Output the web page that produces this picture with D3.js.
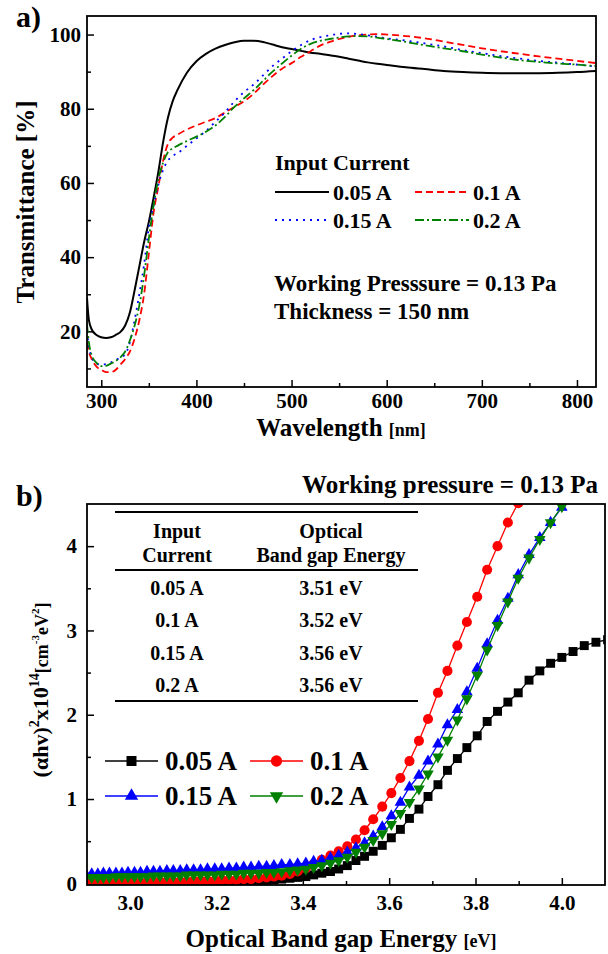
<!DOCTYPE html>
<html>
<head>
<meta charset="utf-8">
<script src="https://cdn.jsdelivr.net/npm/d3@7"></script>
<style>
  body { margin: 0; background: #fff; }
  svg { display: block; }
  text { font-family: "Liberation Serif", "Times New Roman", serif; font-weight: bold; fill: #000; }
</style>
</head>
<body>
<div id="chart"></div>
<script>
// ---------- panel a) transmittance spectra ----------
const wavelength = [285, 287, 290, 295, 300, 305, 310, 315, 320, 325, 330, 335, 340, 345, 350, 355,
  360, 365, 370, 375, 380, 390, 400, 410, 420, 430, 440, 450, 460, 470, 480, 490, 500, 510, 520,
  530, 540, 550, 560, 570, 580, 590, 600, 620, 640, 660, 680, 700, 720, 740, 760, 780, 800, 820];
const trans005 = [29, 23, 20.5, 19, 18.4, 18.2, 18.4, 19, 19.8, 21.5, 25, 31, 37.5, 44, 49.5, 56,
  63, 71, 77.5, 82, 85, 89.7, 92.8, 94.8, 96.2, 97.2, 97.9, 98.3, 98.3, 98, 97.3, 96.6, 96.1, 95.6, 95.1,
  94.8, 94.4, 94, 93.5, 93, 92.5, 92.1, 91.8, 91.2, 90.7, 90.2, 89.9, 89.7, 89.6, 89.6, 89.6, 89.7, 89.9, 90.2];
const trans01 = [17, 14.5, 12.5, 10.5, 9.6, 9, 9, 9.6, 11, 12.5, 14.5, 18, 23, 30, 41, 52,
  59, 66, 70.5, 72.2, 73, 74.4, 75.5, 76.5, 77.5, 79, 80.5, 82, 84, 86.5, 88.8, 90.8, 92.3, 94, 95.5,
  97, 98, 98.8, 99.4, 99.8, 100, 100.1, 100, 99.6, 99, 98.1, 97.2, 96.3, 95.5, 94.8, 94.1, 93.5, 92.9, 92.3];
const trans015 = [20, 16, 13, 11.3, 11, 11.2, 11.6, 12.2, 13, 13.8, 17, 23, 30, 38, 48, 54,
  59.5, 63.5, 66, 67.3, 68, 70, 72, 74, 76.5, 79, 82, 84.5, 86.5, 89, 91.5, 93.5, 95.5, 97.2, 98.5,
  99.3, 99.8, 100.2, 100.3, 100.1, 99.8, 99.4, 99, 98.4, 97.6, 96.8, 95.8, 95, 94.2, 93.5, 92.9, 92.4, 91.9, 91.4];
const trans02 = [22, 17, 13.5, 11.5, 10.6, 10.7, 11.3, 12, 13, 14.5, 17.5, 21.5, 27, 35, 45, 54,
  61, 65.5, 68.3, 69.3, 70, 71.3, 72.5, 73.8, 75.5, 77.8, 80.5, 82.8, 85, 87.5, 90, 92.2, 94.3, 96.2, 97.5,
  98.3, 98.8, 99.2, 99.5, 99.6, 99.5, 99.2, 98.8, 98, 97.1, 96.3, 95.5, 94.6, 93.8, 93.1, 92.6, 92.2, 91.9, 91.5];
const aXTicks = [300, 400, 500, 600, 700, 800];
const aXMinor = [350, 450, 550, 650, 750];
const aYTicks = [20, 40, 60, 80, 100];
const aYMinor = [10, 30, 50, 70, 90];

// ---------- panel b) Tauc plot ----------
const photonEnergy = [2.897, 2.911, 2.925, 2.938, 2.952, 2.967, 2.981, 2.995, 3.010, 3.024, 3.039,
  3.054, 3.069, 3.085, 3.100, 3.116, 3.131, 3.147, 3.163, 3.179, 3.196, 3.212, 3.229, 3.246, 3.263,
  3.280, 3.298, 3.316, 3.333, 3.351, 3.370, 3.388, 3.407, 3.425, 3.444, 3.464, 3.483, 3.503, 3.523,
  3.543, 3.563, 3.584, 3.605, 3.626, 3.647, 3.669, 3.690, 3.713, 3.735, 3.758, 3.780, 3.804, 3.827,
  3.851, 3.875, 3.899, 3.924, 3.949, 3.974, 4.000, 4.026, 4.052, 4.079, 4.106];
const tauc005 = [0, 0, 0, 0, 0, 0, 0, 0, 0, 0, 0, 0, 0, 0, 0, 0, 0, 0, 0, 0.01, 0.01, 0.01, 0.01,
  0.02, 0.02, 0.02, 0.03, 0.03, 0.04, 0.05, 0.06, 0.07, 0.08, 0.10, 0.12, 0.14, 0.17, 0.21, 0.27, 0.32,
  0.38, 0.45, 0.54, 0.64, 0.77, 0.88, 1.03, 1.17, 1.34, 1.48, 1.61, 1.75, 1.92, 2.04, 2.15, 2.26, 2.41,
  2.52, 2.61, 2.68, 2.75, 2.82, 2.86, 2.89];
const tauc01 = [0, 0, 0, 0.01, 0.01, 0.01, 0.01, 0.01, 0.01, 0.01, 0.01, 0.02, 0.02, 0.02, 0.02, 0.02,
  0.02, 0.03, 0.03, 0.03, 0.03, 0.04, 0.04, 0.04, 0.05, 0.05, 0.06, 0.07, 0.08, 0.09, 0.11, 0.14, 0.18,
  0.23, 0.28, 0.33, 0.38, 0.44, 0.52, 0.63, 0.76, 0.91, 1.07, 1.25, 1.45, 1.69, 1.95, 2.26, 2.52, 2.82,
  3.10, 3.40, 3.72, 4.00, 4.28, 4.51, 4.80];
const tauc015 = [0.11, 0.11, 0.11, 0.12, 0.12, 0.12, 0.12, 0.13, 0.13, 0.13, 0.14, 0.14, 0.14, 0.15,
  0.15, 0.15, 0.16, 0.16, 0.16, 0.17, 0.17, 0.17, 0.18, 0.18, 0.19, 0.19, 0.20, 0.20, 0.21, 0.22, 0.22,
  0.23, 0.24, 0.26, 0.27, 0.30, 0.33, 0.37, 0.42, 0.48, 0.56, 0.67, 0.80, 0.96, 1.14, 1.28, 1.45, 1.65,
  1.88, 2.06, 2.27, 2.55, 2.84, 3.12, 3.38, 3.66, 3.90, 4.10, 4.28, 4.46, 4.66];
const tauc02 = [0.07, 0.07, 0.07, 0.07, 0.07, 0.08, 0.08, 0.08, 0.08, 0.08, 0.08, 0.09, 0.09, 0.09,
  0.09, 0.09, 0.10, 0.10, 0.10, 0.10, 0.10, 0.11, 0.11, 0.11, 0.12, 0.12, 0.12, 0.13, 0.13, 0.14, 0.15,
  0.16, 0.17, 0.19, 0.21, 0.24, 0.27, 0.31, 0.37, 0.43, 0.51, 0.59, 0.70, 0.83, 0.96, 1.12, 1.30, 1.50,
  1.70, 1.94, 2.19, 2.47, 2.77, 3.06, 3.34, 3.62, 3.86, 4.08, 4.28, 4.47, 4.68];
const bXTicks = [3.0, 3.2, 3.4, 3.6, 3.8, 4.0];
const bXMinor = [3.1, 3.3, 3.5, 3.7, 3.9];
const bYTicks = [0, 1, 2, 3, 4];
const bYMinor = [0.5, 1.5, 2.5, 3.5];

const currents = ["0.05 A", "0.1 A", "0.15 A", "0.2 A"];
const bandGaps = ["3.51 eV", "3.52 eV", "3.56 eV", "3.56 eV"];
const colors = ["#000000", "#ff0000", "#0000ff", "#008000"];

const W = 608, H = 954;
const svg = d3.select("#chart").append("svg")
  .attr("width", W).attr("height", H).attr("viewBox", `0 0 ${W} ${H}`);
svg.append("rect").attr("width", W).attr("height", H).attr("fill", "#fff");

function styleAxis(g) {
  g.select(".domain").remove();
  g.selectAll("line").attr("stroke", "#000").attr("stroke-width", 1.5);
  g.selectAll("text").attr("font-size", 21).attr("fill", "#000");
}

function frame(box) {
  svg.append("rect")
    .attr("x", box.left).attr("y", box.top)
    .attr("width", box.right - box.left).attr("height", box.bottom - box.top)
    .attr("fill", "none").attr("stroke", "#000").attr("stroke-width", 1.8);
}

function clip(id, box) {
  svg.append("clipPath").attr("id", id).append("rect")
    .attr("x", box.left).attr("y", box.top)
    .attr("width", box.right - box.left).attr("height", box.bottom - box.top);
}

// ================= panel a =================
const boxA = { left: 87, top: 16, right: 596, bottom: 387 };
const xA = d3.scaleLinear().domain([285, 820]).range([boxA.left, boxA.right]);
const yA = d3.scaleLinear().domain([5, 105]).range([boxA.bottom, boxA.top]);
clip("clipA", boxA);

svg.append("g").attr("transform", `translate(0,${boxA.bottom})`)
  .call(d3.axisBottom(xA).tickValues(aXTicks).tickSize(-7).tickPadding(6).tickFormat(d3.format("d")))
  .call(styleAxis);
svg.append("g").attr("transform", `translate(0,${boxA.bottom})`)
  .call(d3.axisBottom(xA).tickValues(aXMinor).tickSize(-4).tickFormat(""))
  .call(styleAxis);
svg.append("g").attr("transform", `translate(${boxA.left},0)`)
  .call(d3.axisLeft(yA).tickValues(aYTicks).tickSize(-7).tickPadding(6).tickFormat(d3.format("d")))
  .call(styleAxis);
svg.append("g").attr("transform", `translate(${boxA.left},0)`)
  .call(d3.axisLeft(yA).tickValues(aYMinor).tickSize(-4).tickFormat(""))
  .call(styleAxis);

const seriesA = [
  { values: trans005, dash: null },
  { values: trans01, dash: "7,4" },
  { values: trans015, dash: "2,5" },
  { values: trans02, dash: "9,3,2,3" },
];
const lineA = d3.line()
  .x((d) => xA(d[0]))
  .y((d) => yA(d[1]))
  .curve(d3.curveMonotoneX);

const plotA = svg.append("g").attr("clip-path", "url(#clipA)");
seriesA.forEach((s, i) => {
  plotA.append("path")
    .datum(s.values.map((v, k) => [wavelength[k], v]))
    .attr("d", lineA)
    .attr("fill", "none")
    .attr("stroke", colors[i])
    .attr("stroke-width", i === 0 ? 2 : 1.8)
    .attr("stroke-dasharray", s.dash);
});
frame(boxA);

// legend a
svg.append("text").attr("x", 275).attr("y", 170).attr("font-size", 22).text("Input Current");
const legA = svg.append("g");
seriesA.forEach((s, i) => {
  const lx = i % 2 === 0 ? 275 : 415;
  const ly = i < 2 ? 192 : 220;
  legA.append("line")
    .attr("x1", lx).attr("x2", lx + 54).attr("y1", ly).attr("y2", ly)
    .attr("stroke", colors[i]).attr("stroke-width", 2)
    .attr("stroke-dasharray", s.dash);
  legA.append("text").attr("x", lx + 58).attr("y", ly + 8).attr("font-size", 22).text(currents[i]);
});
svg.append("text").attr("x", 274).attr("y", 291).attr("font-size", 23).text("Working Presssure = 0.13 Pa");
svg.append("text").attr("x", 274).attr("y", 319).attr("font-size", 23).text("Thickness = 150 nm");

// axis titles a
svg.append("text").attr("x", 16).attr("y", 27).attr("font-size", 30).text("a)");
svg.append("text")
  .attr("transform", "translate(34,202) rotate(-90)")
  .attr("text-anchor", "middle").attr("font-size", 25)
  .text("Transmittance [%]");
const xtA = svg.append("text").attr("x", 341).attr("y", 436).attr("text-anchor", "middle");
xtA.append("tspan").attr("font-size", 25).text("Wavelength ");
xtA.append("tspan").attr("font-size", 18).text("[nm]");

// ================= panel b =================
const boxB = { left: 87, top: 504, right: 605, bottom: 885 };
const xB = d3.scaleLinear().domain([2.9, 4.1]).range([boxB.left, boxB.right]);
const yB = d3.scaleLinear().domain([-0.02, 4.5]).range([boxB.bottom, boxB.top]);
clip("clipB", boxB);

svg.append("g").attr("transform", `translate(0,${boxB.bottom})`)
  .call(d3.axisBottom(xB).tickValues(bXTicks).tickSize(-7).tickPadding(10).tickFormat(d3.format(".1f")))
  .call(styleAxis);
svg.append("g").attr("transform", `translate(0,${boxB.bottom})`)
  .call(d3.axisBottom(xB).tickValues(bXMinor).tickSize(-4).tickFormat(""))
  .call(styleAxis);
svg.append("g").attr("transform", `translate(${boxB.left},0)`)
  .call(d3.axisLeft(yB).tickValues(bYTicks).tickSize(-7).tickPadding(10).tickFormat(d3.format("d")))
  .call(styleAxis);
svg.append("g").attr("transform", `translate(${boxB.left},0)`)
  .call(d3.axisLeft(yB).tickValues(bYMinor).tickSize(-4).tickFormat(""))
  .call(styleAxis);

const seriesB = [
  { values: tauc005, symbol: d3.symbolSquare, size: 80, rot: 0 },
  { values: tauc01, symbol: d3.symbolCircle, size: 80, rot: 0 },
  { values: tauc015, symbol: d3.symbolTriangle, size: 58, rot: 0 },
  { values: tauc02, symbol: d3.symbolTriangle, size: 58, rot: 180 },
];
const lineB = d3.line().x((d) => xB(d[0])).y((d) => yB(d[1]));

// table of band gaps
const table = svg.append("g");
[512, 570, 701].forEach((y) => {
  table.append("line").attr("x1", 115).attr("x2", 418).attr("y1", y).attr("y2", y)
    .attr("stroke", "#000").attr("stroke-width", 2);
});
table.append("text").attr("x", 177).attr("y", 538).attr("text-anchor", "middle").attr("font-size", 20).text("Input");
table.append("text").attr("x", 177).attr("y", 562).attr("text-anchor", "middle").attr("font-size", 20).text("Current");
table.append("text").attr("x", 331).attr("y", 538).attr("text-anchor", "middle").attr("font-size", 20).text("Optical");
table.append("text").attr("x", 331).attr("y", 562).attr("text-anchor", "middle").attr("font-size", 20).text("Band gap Energy");
const rowY = [595, 627, 660, 692];
currents.forEach((c, i) => {
  table.append("text").attr("x", 177).attr("y", rowY[i]).attr("text-anchor", "middle").attr("font-size", 20).text(c);
  table.append("text").attr("x", 331).attr("y", rowY[i]).attr("text-anchor", "middle").attr("font-size", 20).text(bandGaps[i]);
});

const plotB = svg.append("g").attr("clip-path", "url(#clipB)");
seriesB.forEach((s, i) => {
  const pts = s.values.map((v, k) => [photonEnergy[k], v]);
  const g = plotB.append("g");
  g.append("path").datum(pts).attr("d", lineB)
    .attr("fill", "none").attr("stroke", colors[i]).attr("stroke-width", 1.3);
  g.selectAll("path.mk").data(pts).enter().append("path")
    .attr("class", "mk")
    .attr("d", d3.symbol().type(s.symbol).size(s.size))
    .attr("transform", (d) => `translate(${xB(d[0])},${yB(d[1])}) rotate(${s.rot})`)
    .attr("fill", colors[i]);
});
frame(boxB);

// legend b
const legB = svg.append("g");
seriesB.forEach((s, i) => {
  const lx = i % 2 === 0 ? 105 : 250;
  const ly = i < 2 ? 761 : 796;
  legB.append("line").attr("x1", lx).attr("x2", lx + 53).attr("y1", ly).attr("y2", ly)
    .attr("stroke", colors[i]).attr("stroke-width", 1.5);
  legB.append("path")
    .attr("d", d3.symbol().type(s.symbol).size(s.size + 20))
    .attr("transform", `translate(${lx + 26.5},${ly}) rotate(${s.rot})`)
    .attr("fill", colors[i]);
  legB.append("text").attr("x", lx + 60).attr("y", ly + 9).attr("font-size", 27).text(currents[i]);
});

svg.append("text").attr("x", 598).attr("y", 493).attr("text-anchor", "end").attr("font-size", 25)
  .text("Working pressure = 0.13 Pa");
svg.append("text").attr("x", 16).attr("y", 506).attr("font-size", 30).text("b)");

const xtB = svg.append("text").attr("x", 341).attr("y", 947).attr("text-anchor", "middle");
xtB.append("tspan").attr("font-size", 25).text("Optical Band gap Energy ");
xtB.append("tspan").attr("font-size", 18).text("[eV]");

const ytB = svg.append("text").attr("transform", "translate(48,690) rotate(-90)").attr("text-anchor", "middle");
[
  ["(\u03b1hv)", 22, 0],
  ["2", 14, -9],
  ["x10", 22, 9],
  ["14", 14, -9],
  ["[cm", 18, 9],
  ["-3", 11, -9],
  ["eV", 18, 9],
  ["2", 11, -9],
  ["]", 18, 9],
].forEach(([t, fs, dy]) => {
  ytB.append("tspan").attr("font-size", fs).attr("dy", dy).text(t);
});
</script>
</body>
</html>
